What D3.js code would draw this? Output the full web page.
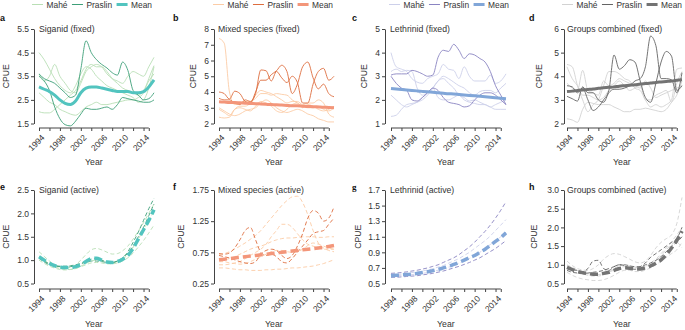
<!DOCTYPE html>
<html>
<head>
<meta charset="utf-8">
<script src="https://cdn.jsdelivr.net/npm/d3@7"></script>
<style>
body { margin: 0; background: #fff; }
svg text { font-family: "Liberation Sans", Arial, sans-serif; }
</style>
</head>
<body>
<div id="chart"></div>
<script>
const width = 685, height = 330;

const years = [1994, 1995, 1996, 1997, 1998, 1999, 2000, 2001, 2002, 2003, 2004, 2005,
    2006, 2007, 2008, 2009, 2010, 2011, 2012, 2013, 2014, 2015, 2016];
const xTickYears = [1994, 1996, 1998, 2000, 2002, 2004, 2006, 2008, 2010, 2012, 2014, 2015];
const xLabelYears = [1994, 1998, 2002, 2006, 2010, 2014];

// a: Siganid (fixed)
const sigFixedMahe = [
    [4.5, 4.2, 3.8, 3.4, 3.1, 2.9, 2.8, 3.1, 3.6, 3.9, 3.8, 3.5, 3.3, 3.1, 3.0, 2.9, 2.8, 2.7, 2.6, 2.4, 2.5, 3.0, 3.9],
    [2.8, 2.6, 2.4, 2.3, 2.1, 2.0, 1.9, 1.85, 2.0, 2.2, 2.3, 2.4, 2.3, 2.3, 2.35, 2.4, 2.45, 2.5, 2.5, 2.6, 2.8, 3.4, 3.95],
    [2.0, 1.95, 1.95, 2.1, 2.3, 2.5, 2.7, 2.9, 3.3, 3.8, 4.0, 3.9, 3.9, 3.7, 3.4, 3.2, 3.0, 2.9, 2.8, 2.7, 2.9, 3.3, 3.6],
    [3.6, 3.3, 3.5, 4.0, 3.5, 3.2, 2.9, 2.8, 3.2, 3.7, 3.9, 4.0, 3.9, 3.6, 3.4, 3.3, 3.2, 3.5, 3.7, 3.6, 3.5, 3.9, 4.3]
];
const sigFixedPraslin = [
    [3.6, 3.4, 3.3, 3.2, 3.0, 2.8, 2.6, 2.7, 3.8, 5.0, 4.5, 4.2, 4.0, 3.85, 3.65, 3.55, 4.1, 3.75, 2.9, 2.7, 2.5, 2.55, 2.8],
    [3.5, 3.3, 2.9, 2.2, 1.7, 1.45, 1.4, 1.6, 1.9, 2.15, 2.1, 2.1, 2.15, 2.2, 2.1, 2.3, 2.6, 2.55, 2.5, 2.45, 2.4, 2.4, 2.5]
];
const sigFixedMean = [3.05, 2.95, 2.85, 2.7, 2.5, 2.35, 2.3, 2.45, 2.8, 3.0, 3.05, 3.05, 3.0, 2.95, 2.9, 2.85, 2.85, 2.85, 2.8, 2.8, 2.85, 3.05, 3.35];

// b: Mixed species (fixed)
const mixFixedMahe = [
    [7.4, 7.1, 4.0, 3.2, 3.3, 3.4, 3.4, 3.6, 3.9, 3.9, 3.8, 3.9, 3.85, 3.8, 3.5, 3.3, 3.1, 3.0, 3.0, 3.1, 2.9, 2.8, 3.0],
    [2.4, 2.35, 2.4, 2.9, 3.1, 3.1, 3.3, 3.8, 4.1, 4.0, 3.9, 3.7, 3.5, 3.3, 3.4, 3.4, 3.2, 3.3, 3.3, 3.5, 3.3, 2.6, 2.4],
    [3.0, 2.8, 2.6, 2.5, 2.6, 2.8, 2.9, 3.0, 3.3, 3.5, 3.3, 3.0, 2.8, 2.7, 2.8, 2.9, 2.8, 2.6, 2.5, 2.3, 2.2, 2.1, 2.1],
    [2.9, 2.7, 2.5, 2.9, 3.0, 2.9, 2.8, 3.1, 3.4, 3.3, 3.1, 2.8, 2.7, 2.9, 3.2, 3.3, 3.0, 3.2, 3.1, 2.9, 2.8, 2.9, 3.1]
];
const mixFixedPraslin = [
    [4.0, 3.9, 3.55, 4.05, 3.9, 3.4, 3.3, 4.0, 4.75, 4.75, 5.1, 5.35, 5.7, 5.3, 3.9, 4.5, 5.6, 5.9, 4.9, 4.2, 4.5, 3.9, 3.7],
    [3.6, 3.5, 3.5, 3.3, 3.2, 3.5, 3.4, 3.9, 5.4, 5.35, 4.7, 5.3, 4.9, 4.6, 5.0, 4.6, 3.3, 3.3, 4.5, 5.3, 5.5, 4.75, 5.0]
];
const mixFixedMean = [3.38, 3.36, 3.34, 3.33, 3.31, 3.29, 3.27, 3.26, 3.24, 3.22, 3.2, 3.19, 3.17, 3.15, 3.13, 3.12, 3.1, 3.08, 3.07, 3.05, 3.03, 3.02, 3.0];

// c: Lethrinid (fixed)
const lethFixedMahe = [
    [4.0, 3.4, 3.3, 3.2, 2.9, 2.75, 2.7, 2.9, 3.0, 3.1, 3.5, 3.3, 3.25, 2.9, 3.4, 3.0, 2.8, 2.8, 2.8, 3.05, 2.7, 2.8, 3.1],
    [3.2, 3.3, 3.2, 3.25, 3.2, 2.5, 2.2, 2.3, 2.5, 2.8, 3.0, 2.9, 2.75, 2.6, 2.5, 2.3, 2.2, 2.35, 2.4, 2.4, 2.3, 2.5, 2.7],
    [2.2, 2.0, 1.8, 1.7, 1.8, 1.9, 2.0, 2.2, 2.5, 2.8, 2.9, 2.7, 2.5, 2.2, 2.1, 1.95, 2.0, 1.9, 1.8, 1.7, 1.6, 1.6, 1.6],
    [1.3, 1.35, 1.6, 1.8, 1.85, 1.9, 2.1, 2.3, 2.5, 2.1, 2.0, 2.0, 2.1, 2.2, 2.0, 1.9, 1.85, 1.8, 1.8, 1.7, 1.8, 1.9, 2.0]
];
const lethFixedPraslin = [
    [3.05, 3.1, 3.1, 3.1, 3.25, 3.2, 3.1, 3.0, 3.05, 3.8, 4.1, 4.05, 4.35, 4.1, 3.75, 3.95, 3.9, 3.75, 3.6, 3.2, 2.6, 2.2, 1.8],
    [3.0, 2.7, 2.5, 2.4, 2.0, 1.95, 2.1, 2.3, 2.5, 2.4, 2.1, 1.9, 1.85, 1.8, 1.7, 1.75, 2.0, 2.2, 2.3, 2.3, 2.2, 2.0, 1.8]
];
const lethFixedMean = [2.48, 2.46, 2.44, 2.42, 2.4, 2.38, 2.36, 2.34, 2.32, 2.3, 2.28, 2.26, 2.25, 2.23, 2.21, 2.19, 2.17, 2.15, 2.13, 2.11, 2.09, 2.07, 2.05];

// d: Groups combined (fixed)
const allFixedMahe = [
    [4.5, 4.4, 3.6, 3.0, 2.5, 2.8, 3.0, 3.6, 4.2, 4.2, 4.1, 3.9, 3.8, 3.5, 3.4, 3.0, 2.7, 2.8, 2.7, 2.8, 3.0, 4.3, 4.35],
    [2.2, 2.15, 2.05, 2.6, 2.9, 2.85, 2.8, 2.8, 2.8, 2.7, 2.6, 2.5, 2.5, 2.6, 2.6, 2.65, 2.6, 2.55, 2.5, 2.6, 2.9, 3.2, 3.8],
    [3.7, 3.5, 3.4, 4.25, 3.4, 3.3, 3.2, 3.8, 3.6, 3.7, 3.9, 3.8, 3.7, 3.6, 3.5, 3.8, 3.5, 3.1, 3.2, 3.3, 3.4, 3.5, 3.6],
    [4.4, 3.9, 3.6, 3.2, 3.2, 3.1, 3.0, 3.1, 3.4, 3.6, 3.8, 3.6, 3.4, 3.5, 3.6, 3.0, 3.0, 3.2, 3.3, 3.4, 2.9, 3.7, 4.2]
];
const allFixedPraslin = [
    [3.6, 3.55, 3.3, 3.5, 3.0, 2.55, 2.7, 3.0, 3.4, 4.9, 4.3, 4.45, 4.7, 4.6, 3.8, 3.1, 2.9, 3.7, 4.6, 5.05, 4.85, 3.4, 3.6],
    [3.15, 3.05, 2.95, 3.55, 3.3, 3.3, 3.0, 2.9, 3.3, 3.45, 3.45, 3.5, 3.6, 3.8, 3.9, 4.4, 5.7, 5.3, 3.9, 3.9, 3.85, 3.3, 4.15]
];
const allFixedMean = [3.35, 3.37, 3.4, 3.42, 3.44, 3.46, 3.49, 3.51, 3.53, 3.55, 3.58, 3.6, 3.62, 3.64, 3.67, 3.69, 3.71, 3.74, 3.76, 3.78, 3.8, 3.83, 3.85];

// e: Siganid (active)
const sigActiveMahe = [
    [1.18, 1.08, 0.98, 0.9, 0.85, 0.83, 0.85, 0.9, 1.0, 1.12, 1.22, 1.25, 1.22, 1.17, 1.13, 1.14, 1.2, 1.3, 1.45, 1.62, 1.8, 2.0, 2.2],
    [1.0, 0.93, 0.87, 0.83, 0.8, 0.79, 0.8, 0.82, 0.86, 0.9, 0.94, 0.95, 0.94, 0.92, 0.92, 0.94, 0.98, 1.05, 1.15, 1.28, 1.42, 1.58, 1.75],
    [1.08, 1.0, 0.92, 0.86, 0.82, 0.8, 0.8, 0.82, 0.87, 0.93, 0.98, 1.0, 0.98, 0.95, 0.94, 0.96, 1.02, 1.12, 1.27, 1.45, 1.65, 1.85, 2.05]
];
const sigActivePraslin = [
    [1.05, 0.98, 0.92, 0.88, 0.86, 0.85, 0.86, 0.88, 0.92, 0.97, 1.02, 1.03, 1.0, 0.96, 0.95, 0.98, 1.05, 1.18, 1.38, 1.6, 1.85, 2.1, 2.32],
    [1.04, 0.96, 0.9, 0.88, 0.87, 0.87, 0.88, 0.9, 0.93, 0.96, 0.98, 0.98, 0.97, 0.95, 0.95, 0.98, 1.05, 1.15, 1.3, 1.5, 1.7, 1.95, 2.2]
];
const sigActiveMean = [1.07, 1.0, 0.93, 0.88, 0.85, 0.84, 0.84, 0.86, 0.9, 0.97, 1.03, 1.04, 1.0, 0.96, 0.95, 0.97, 1.02, 1.1, 1.25, 1.45, 1.65, 1.85, 2.08];

// f: Mixed species (active)
const mixActiveMahe = [
    [0.72, 0.73, 0.76, 0.8, 0.85, 0.9, 0.96, 1.02, 1.1, 1.2, 1.3, 1.4, 1.5, 1.58, 1.64, 1.65, 1.55, 1.35, 1.1, 0.9, 0.82, 0.78, 0.76],
    [0.62, 0.63, 0.65, 0.68, 0.72, 0.76, 0.8, 0.83, 0.85, 0.88, 0.92, 0.95, 0.97, 0.98, 0.98, 0.99, 1.0, 1.0, 1.0, 0.99, 0.99, 1.0, 1.0],
    [0.55, 0.55, 0.56, 0.58, 0.6, 0.65, 0.7, 0.75, 0.8, 0.88, 1.0, 1.1, 1.2, 1.2, 1.15, 1.05, 0.95, 0.88, 0.85, 0.82, 0.8, 0.8, 0.8],
    [0.5, 0.5, 0.49, 0.48, 0.47, 0.47, 0.46, 0.46, 0.46, 0.47, 0.47, 0.48, 0.48, 0.49, 0.5, 0.5, 0.51, 0.52, 0.53, 0.55, 0.57, 0.6, 0.63],
    [0.6, 0.6, 0.58, 0.57, 0.56, 0.57, 0.6, 0.64, 0.68, 0.72, 0.76, 0.78, 0.78, 0.76, 0.75, 0.76, 0.8, 0.86, 0.9, 0.88, 0.85, 0.82, 0.8]
];
const mixActivePraslin = [
    [0.73, 0.72, 0.74, 0.82, 0.95, 1.1, 1.15, 0.95, 0.75, 0.7, 0.72, 0.68, 0.6, 0.58, 0.65, 0.75, 0.85, 0.95, 1.05, 1.08, 1.1, 1.2, 1.3],
    [0.7, 0.68, 0.66, 0.63, 0.6, 0.58, 0.57, 0.6, 0.72, 0.78, 0.8, 0.78, 0.7, 0.65, 0.7, 0.85, 1.05, 1.3, 1.42, 1.38, 1.25, 1.3, 1.48]
];
const mixActiveMean = [0.63, 0.64, 0.65, 0.66, 0.67, 0.68, 0.69, 0.7, 0.71, 0.72, 0.73, 0.74, 0.75, 0.76, 0.77, 0.78, 0.79, 0.8, 0.81, 0.82, 0.83, 0.845, 0.86];

// g: Lethrinid (active)
const lethActiveMahe = [
    [0.61, 0.615, 0.62, 0.63, 0.64, 0.65, 0.66, 0.675, 0.69, 0.71, 0.73, 0.76, 0.79, 0.82, 0.86, 0.9, 0.95, 1.0, 1.05, 1.11, 1.18, 1.25, 1.32],
    [0.6, 0.6, 0.605, 0.61, 0.615, 0.62, 0.63, 0.64, 0.655, 0.67, 0.69, 0.71, 0.73, 0.76, 0.79, 0.82, 0.86, 0.9, 0.95, 1.0, 1.05, 1.1, 1.16]
];
const lethActivePraslin = [
    [0.63, 0.635, 0.64, 0.65, 0.66, 0.67, 0.685, 0.7, 0.72, 0.74, 0.77, 0.8, 0.83, 0.87, 0.92, 0.97, 1.03, 1.1, 1.17, 1.25, 1.34, 1.44, 1.55],
    [0.58, 0.58, 0.585, 0.59, 0.595, 0.6, 0.61, 0.62, 0.63, 0.645, 0.66, 0.68, 0.7, 0.72, 0.745, 0.77, 0.8, 0.83, 0.87, 0.91, 0.95, 1.0, 1.05]
];
const lethActiveMean = [0.6, 0.605, 0.61, 0.615, 0.62, 0.63, 0.64, 0.65, 0.665, 0.68, 0.7, 0.72, 0.745, 0.77, 0.8, 0.83, 0.86, 0.9, 0.94, 0.99, 1.04, 1.09, 1.15];

// h: Groups combined (active)
const allActiveMahe = [
    [1.1, 0.98, 0.9, 0.86, 0.85, 0.9, 1.0, 1.15, 1.25, 1.3, 1.28, 1.22, 1.15, 1.08, 1.05, 1.1, 1.25, 1.45, 1.6, 1.7, 1.8, 2.1, 2.8],
    [0.8, 0.72, 0.66, 0.62, 0.6, 0.58, 0.58, 0.6, 0.65, 0.72, 0.8, 0.85, 0.85, 0.82, 0.82, 0.86, 0.92, 1.0, 1.1, 1.2, 1.3, 1.4, 1.6],
    [0.98, 0.9, 0.82, 0.76, 0.72, 0.7, 0.7, 0.73, 0.8, 0.9, 0.98, 1.0, 0.98, 0.94, 0.93, 0.96, 1.05, 1.15, 1.3, 1.45, 1.62, 1.8, 2.0],
    [1.0, 0.93, 0.86, 0.8, 0.76, 0.74, 0.74, 0.76, 0.8, 0.86, 0.92, 0.95, 0.95, 0.93, 0.92, 0.94, 1.0, 1.1, 1.25, 1.4, 1.55, 1.6, 1.45]
];
const allActivePraslin = [
    [0.9, 0.87, 0.85, 0.82, 0.9, 1.1, 1.12, 0.9, 0.85, 0.95, 1.0, 0.98, 0.9, 0.88, 0.95, 1.05, 1.2, 1.3, 1.4, 1.5, 1.6, 1.7, 2.0],
    [0.85, 0.8, 0.78, 0.77, 0.78, 0.8, 0.82, 0.85, 0.9, 0.95, 1.0, 1.0, 0.97, 0.95, 0.95, 1.0, 1.05, 1.12, 1.22, 1.35, 1.5, 1.6, 1.75]
];
const allActiveMean = [0.93, 0.87, 0.82, 0.79, 0.77, 0.75, 0.75, 0.77, 0.8, 0.85, 0.9, 0.92, 0.91, 0.89, 0.89, 0.92, 0.97, 1.04, 1.13, 1.27, 1.45, 1.65, 1.9];

// y tick values per panel
const ticksA = [1.5, 2.5, 3.5, 4.5, 5.5];
const ticksB = [2, 3, 4, 5, 6, 7, 8];
const ticksC = [1, 2, 3, 4, 5];
const ticksD = [2, 3, 4, 5, 6];
const ticksE = [0.5, 1.0, 1.5, 2.0, 2.5];
const ticksF = [0.25, 0.75, 1.25, 1.75];
const ticksG = [0.5, 0.7, 0.9, 1.1, 1.3, 1.5, 1.7];
const ticksH = [0.5, 1.0, 1.5, 2.0, 2.5, 3.0];

const palettes = [
    { mahe: "#b9dfb5", praslin: "#3d9f78", mean: "#52c4bf" },
    { mahe: "#fccca6", praslin: "#de6d3e", mean: "#f3967a" },
    { mahe: "#cdd0ea", praslin: "#8a84c2", mean: "#81a6d8" },
    { mahe: "#d2d2d2", praslin: "#646464", mean: "#737373" }
];

// layout per column
const columns = [
    { axisX: 34, x0: 39, legendX: 32, letterX: 0, titleX: 39 },
    { axisX: 214, x0: 219, legendX: 213, letterX: 173, titleX: 218 },
    { axisX: 385, x0: 391, legendX: 389, letterX: 352, titleX: 390 },
    { axisX: 564, x0: 567, legendX: 562, letterX: 529, titleX: 567 }
];

const panels = [
    { letter: "a", title: "Siganid (fixed)", row: 0, col: 0, mahe: sigFixedMahe, praslin: sigFixedPraslin, mean: sigFixedMean, ticks: ticksA, fmt: ".1f", cpueX: 6 },
    { letter: "b", title: "Mixed species (fixed)", row: 0, col: 1, mahe: mixFixedMahe, praslin: mixFixedPraslin, mean: mixFixedMean, ticks: ticksB, fmt: "d", cpueX: 193 },
    { letter: "c", title: "Lethrinid (fixed)", row: 0, col: 2, mahe: lethFixedMahe, praslin: lethFixedPraslin, mean: lethFixedMean, ticks: ticksC, fmt: "d", cpueX: 364 },
    { letter: "d", title: "Groups combined (fixed)", row: 0, col: 3, mahe: allFixedMahe, praslin: allFixedPraslin, mean: allFixedMean, ticks: ticksD, fmt: "d", cpueX: 539 },
    { letter: "e", title: "Siganid (active)", row: 1, col: 0, mahe: sigActiveMahe, praslin: sigActivePraslin, mean: sigActiveMean, ticks: ticksE, fmt: ".1f", cpueX: 6 },
    { letter: "f", title: "Mixed species (active)", row: 1, col: 1, mahe: mixActiveMahe, praslin: mixActivePraslin, mean: mixActiveMean, ticks: ticksF, fmt: ".2f", cpueX: 181 },
    { letter: "g", title: "Lethrinid (active)", row: 1, col: 2, mahe: lethActiveMahe, praslin: lethActivePraslin, mean: lethActiveMean, ticks: ticksG, fmt: ".1f", cpueX: 358 },
    { letter: "h", title: "Groups combined (active)", row: 1, col: 3, mahe: allActiveMahe, praslin: allActivePraslin, mean: allActiveMean, ticks: ticksH, fmt: ".1f", cpueX: 534 }
];

const rows = [
    { top: 29, bottom: 123.5, axisY: 128, yearY: 165, letterY: 21 },
    { top: 190, bottom: 283.5, axisY: 289, yearY: 327, letterY: 190 }
];

const svg = d3.select("#chart").append("svg")
    .attr("width", width)
    .attr("height", height);

panels.forEach(p => drawPanel(p));

function drawPanel(p) {
    const col = columns[p.col], row = rows[p.row], pal = palettes[p.col];
    const g = svg.append("g");

    const x = d3.scaleLinear().domain([1994, 2016]).range([col.x0, col.x0 + 115]);
    const y = d3.scaleLinear().domain(d3.extent(p.ticks)).range([row.bottom, row.top]);

    // y axis
    const ya = g.append("g")
        .attr("transform", `translate(${col.axisX},0)`)
        .call(d3.axisLeft(y).tickValues(p.ticks).tickSize(3).tickSizeOuter(0).tickPadding(2)
            .tickFormat(d3.format(p.fmt)));
    ya.selectAll("path, line").attr("stroke", "#444");
    ya.selectAll("text").attr("fill", "#333").style("font-size", "8.5px");

    // x axis
    const xa = g.append("g")
        .attr("transform", `translate(0,${row.axisY})`)
        .call(d3.axisBottom(x).tickValues(xTickYears).tickSize(3).tickFormat(""));
    xa.select(".domain").remove();
    xa.selectAll("line").attr("stroke", "#444");
    xa.append("line")
        .attr("x1", x(1994)).attr("x2", x(2015))
        .attr("stroke", "#444");

    g.selectAll(".xlab")
        .data(xLabelYears)
        .enter().append("text")
        .attr("transform", d => `translate(${x(d) + 2},${row.axisY + 6}) rotate(-45)`)
        .attr("text-anchor", "end")
        .attr("dy", "0.7em")
        .attr("fill", "#333")
        .style("font-size", "8.5px")
        .text(d => d);

    g.append("text")
        .attr("x", (x(1994) + x(2015)) / 2)
        .attr("y", row.yearY)
        .attr("text-anchor", "middle")
        .attr("fill", "#333")
        .style("font-size", "8.7px")
        .text("Year");

    g.append("text")
        .attr("transform", `translate(${p.cpueX + 3},${(row.top + row.bottom) / 2}) rotate(-90)`)
        .attr("text-anchor", "middle")
        .attr("fill", "#333")
        .style("font-size", "8.7px")
        .text("CPUE");

    g.append("text")
        .attr("x", col.letterX)
        .attr("y", row.letterY)
        .attr("font-weight", "bold")
        .style("font-size", "9px")
        .style("font-family", p.letter === "g" ? "'Liberation Serif', serif" : null)
        .attr("fill", "#111")
        .text(p.letter);

    g.append("text")
        .attr("x", col.titleX)
        .attr("y", row.top + 3)
        .attr("fill", "#333")
        .style("font-size", "8.7px")
        .text(p.title);

    const dashed = p.row === 1;
    const line = d3.line()
        .x((d, i) => x(years[i]))
        .y(d => y(d))
        .curve(d3.curveMonotoneX);

    g.selectAll(".mahe")
        .data(p.mahe)
        .enter().append("path")
        .attr("d", line)
        .attr("fill", "none")
        .attr("stroke", pal.mahe)
        .attr("stroke-width", 0.9)
        .attr("stroke-dasharray", dashed ? "4,2.5" : null);

    g.selectAll(".praslin")
        .data(p.praslin)
        .enter().append("path")
        .attr("d", line)
        .attr("fill", "none")
        .attr("stroke", pal.praslin)
        .attr("stroke-width", 0.9)
        .attr("stroke-dasharray", dashed ? "4,2.5" : null);

    g.append("path")
        .datum(p.mean)
        .attr("d", line)
        .attr("fill", "none")
        .attr("stroke", pal.mean)
        .attr("stroke-width", dashed ? 3.5 : 3)
        .attr("stroke-dasharray", dashed ? "8,4" : null);

    // legend only above the top row
    if (p.row === 0) {
        const items = [
            { label: "Mahé", color: pal.mahe, w: 1 },
            { label: "Praslin", color: pal.praslin, w: 1 },
            { label: "Mean", color: pal.mean, w: 3 }
        ];
        let lx = col.legendX;
        items.forEach(it => {
            g.append("line")
                .attr("x1", lx).attr("x2", lx + 11)
                .attr("y1", 4.5).attr("y2", 4.5)
                .attr("stroke", it.color)
                .attr("stroke-width", it.w);
            const t = g.append("text")
                .attr("x", lx + 14.5)
                .attr("y", 7.5)
                .attr("fill", "#333")
                .style("font-size", "8.4px")
                .text(it.label);
            lx += 14.5 + t.node().getComputedTextLength() + 4.5;
        });
    }
}
</script>
</body>
</html>
